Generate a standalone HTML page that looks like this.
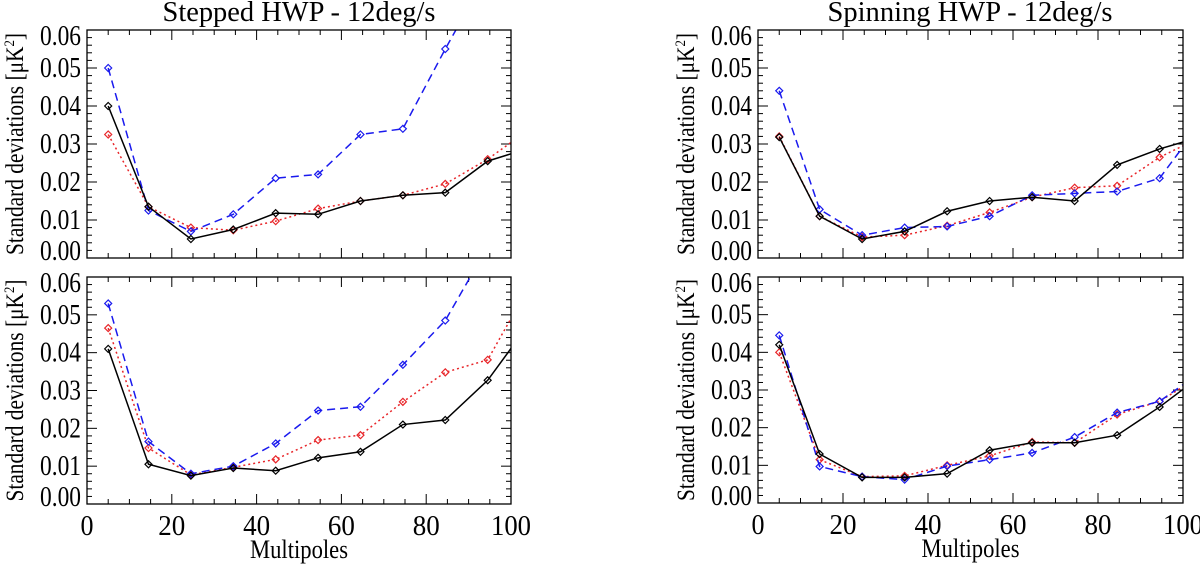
<!DOCTYPE html>
<html><head><meta charset="utf-8"><style>
body{margin:0;background:#fff}
text{font-family:"Liberation Serif",serif;fill:#000}
</style></head><body>
<svg id="c" width="1200" height="565" xmlns="http://www.w3.org/2000/svg"></svg>
<script>
const xs=[5,14.5,24.5,34.5,44.5,54.5,64.5,74.5,84.5,94.5,104.5];
const xTicks=[0,20,40,60,80,100];
const yTicks=[0,0.01,0.02,0.03,0.04,0.05,0.06];
const yTickLabels=["0.00","0.01","0.02","0.03","0.04","0.05","0.06"];
const tlBlack=[0.040,0.0135,0.005,0.0075,0.0118,0.0115,0.015,0.0165,0.0172,0.0255,0.029];
const tlBlue=[0.050,0.0125,0.007,0.0115,0.021,0.022,0.0325,0.034,0.055,0.075,0.09];
const tlRed=[0.0325,0.0135,0.008,0.0073,0.0097,0.013,0.015,0.0165,0.0195,0.026,0.034];
const blBlack=[0.041,0.0105,0.0075,0.0095,0.0088,0.0122,0.0138,0.021,0.0222,0.0327,0.048];
const blBlue=[0.053,0.0165,0.008,0.010,0.016,0.0247,0.0257,0.0368,0.0485,0.068,0.085];
const blRed=[0.0465,0.0148,0.0077,0.0097,0.0118,0.0169,0.0182,0.027,0.0348,0.0381,0.058];
const trBlack=[0.0318,0.011,0.005,0.007,0.0123,0.015,0.016,0.015,0.0245,0.0287,0.032];
const trBlue=[0.044,0.0128,0.006,0.008,0.0083,0.011,0.0165,0.017,0.0175,0.021,0.036];
const trRed=[0.032,0.011,0.0055,0.006,0.0085,0.012,0.016,0.0185,0.019,0.0265,0.032];
const brBlack=[0.042,0.013,0.0068,0.0068,0.0078,0.014,0.016,0.016,0.018,0.0255,0.034];
const brBlue=[0.0445,0.0097,0.007,0.0062,0.0098,0.0115,0.0133,0.0175,0.024,0.027,0.035];
const brRed=[0.040,0.0115,0.007,0.0072,0.010,0.0125,0.0162,0.016,0.0235,0.027,0.034];

const svg=document.getElementById('c');
const NS='http://www.w3.org/2000/svg';
function mk(t,a,p){const e=document.createElementNS(NS,t);for(const k in a)e.setAttribute(k,a[k]);(p||svg).appendChild(e);return e;}
let cid=0;
function panel(x0,x1,y0,y1,series,name,showX){
  const g=mk('g',{});
  
  
  const sx=v=>x0+(v/100)*(x1-x0);
  const sy=v=>y1-(v/0.06)*(y1-y0);
  cid++;
  const cp=mk('clipPath',{id:'cp'+cid},g);
  mk('rect',{x:x0,y:y0,width:x1-x0,height:y1-y0},cp);
  for(let v=0;v<=100;v+=5){const X=sx(v),L=(v%20===0)?10:5;
    mk('line',{x1:X,y1:y1,x2:X,y2:y1-L,stroke:'#000','stroke-width':1},g);
    mk('line',{x1:X,y1:y0,x2:X,y2:y0+L,stroke:'#000','stroke-width':1},g);}
  for(let i=0;i<=30;i++){const v=i*0.002,Y=sy(v),L=(i%5===0)?10:5;
    mk('line',{x1:x0,y1:Y,x2:x0+L,y2:Y,stroke:'#000','stroke-width':1},g);
    mk('line',{x1:x1,y1:Y,x2:x1-L,y2:Y,stroke:'#000','stroke-width':1},g);}
  yTicks.forEach((v,i)=>{let Y=sy(v)+9;if(i===0)Y-=7;if(i===yTicks.length-1)Y+=6;
    const t=mk('text',{x:x0-47,y:Y,'font-size':28,textLength:41,lengthAdjust:'spacingAndGlyphs'},g);t.textContent=yTickLabels[i];
    
    });
  if(showX){xTicks.forEach(v=>{const t=mk('text',{x:sx(v),y:y1+31,'text-anchor':'middle','font-size':28,textLength:v===100?40:(v===0?13:27),lengthAdjust:'spacingAndGlyphs'},g);t.textContent=v;
    
    });
    const t=mk('text',{x:(x0+x1)/2,y:y1+54,'text-anchor':'middle','font-size':26,textLength:98,lengthAdjust:'spacingAndGlyphs'},g);t.textContent='Multipoles';
    
    }
  const yt=mk('text',{x:0,y:0,'text-anchor':'middle','font-size':25,textLength:222,lengthAdjust:'spacingAndGlyphs',transform:`translate(${x0-64},${(y0+y1)/2}) rotate(-90)`},g);
  yt.innerHTML='Standard deviations [μK<tspan font-size="15" dy="-9">2</tspan><tspan dy="9">]</tspan>';
  
  
  const dg=mk('g',{'clip-path':`url(#cp${cid})`},g);
  series.forEach(s=>{
    const pts=s.d.map((v,i)=>sx(xs[i])+','+sy(v)).join(' ');
    const pl=mk('polyline',{points:pts,fill:'none',stroke:s.c,'stroke-width':1.5,'stroke-dasharray':s.dash},dg);
    
    
    s.d.forEach((v,i)=>{const X=sx(xs[i]),Y=sy(v);
      const m=mk('polygon',{points:`${X},${Y-3.5} ${X+3.5},${Y} ${X},${Y+3.5} ${X-3.5},${Y}`,fill:'none',stroke:s.c,'stroke-width':1.2},dg);
      
      });
  });
  const fr=mk('rect',{x:x0,y:y0,width:x1-x0,height:y1-y0,fill:'none',stroke:'#000','stroke-width':1.3},g);
  
  
}
const S=(b,bl,r)=>[{d:r,c:'#e8262a',dash:'2,3',n:'red-series'},{d:bl,c:'#1a1aee',dash:'8,5',n:'blue-series'},{d:b,c:'#000',dash:'',n:'black-series'}];
panel(87,511,30,258,S(tlBlack,tlBlue,tlRed),'stepped-top-panel',false);
panel(87,511,277,504,S(blBlack,blBlue,blRed),'stepped-bottom-panel',true);
panel(758,1183,30,258,S(trBlack,trBlue,trRed),'spinning-top-panel',false);
panel(758,1183,277,503,S(brBlack,brBlue,brRed),'spinning-bottom-panel',true);
let t=mk('text',{x:299,y:21,'text-anchor':'middle','font-size':29,textLength:273,lengthAdjust:'spacingAndGlyphs'});t.textContent='Stepped HWP - 12deg/s';


t=mk('text',{x:970,y:21,'text-anchor':'middle','font-size':29,textLength:285,lengthAdjust:'spacingAndGlyphs'});t.textContent='Spinning HWP - 12deg/s';


</script>
</body></html>
